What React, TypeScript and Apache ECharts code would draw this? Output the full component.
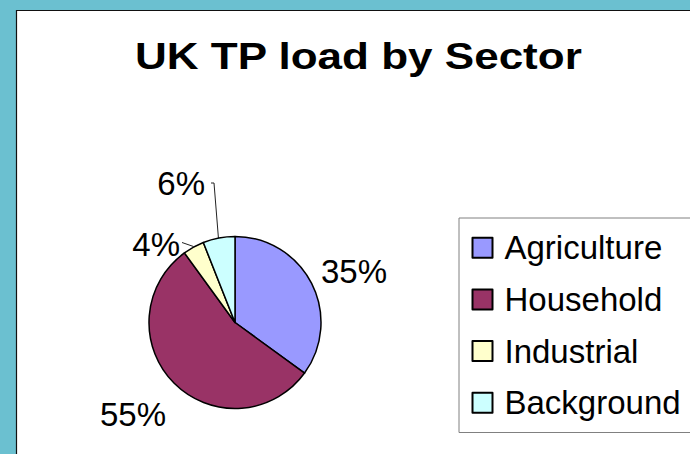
import React, { useEffect, useRef } from "react";
import * as echarts from "echarts";

const categories = ["Agriculture", "Household", "Industrial", "Background"];
const values = [35, 55, 4, 6];
const colors = ["#9999FF", "#993366", "#FFFFCC", "#CCFFFF"];
const titleText = "UK TP load by Sector";

const FONT = 'Arial, "Liberation Sans", Helvetica, sans-serif';

// label anchor styling per slice (x, y, align)
const labelAnchors = [
  { x: 321, y: 271.5, align: "left" },
  { x: 100, y: 414, align: "left" },
  { x: 180, y: 244, align: "right" },
  { x: 205, y: 183, align: "right" },
];
const labelLines: (number[][] | null)[] = [
  null,
  null,
  [[193.5, 246.5], [182, 242.5]],
  [[218.5, 239], [214, 183], [211, 183]],
];

export default function App() {
  const ref = useRef<HTMLDivElement>(null);
  useEffect(() => {
    if (!ref.current) return;
    const chart = echarts.init(ref.current, undefined, { renderer: "svg" });
    chart.setOption({
      animation: false,
      backgroundColor: "#6BC0D0",
      graphic: [
        {
          type: "rect",
          z: -10,
          shape: { x: 16.5, y: 10.5, width: 700, height: 460 },
          style: { fill: "#FFFFFF", stroke: "#111111", lineWidth: 1.2 },
        },
        {
          type: "text",
          z: 10,
          x: 135,
          y: 56.5,
          scaleX: 1.19,
          scaleY: 1,
          style: {
            text: titleText,
            fill: "#000000",
            font: `bold 37px ${FONT}`,
            textAlign: "left",
            textVerticalAlign: "middle",
          },
        },
      ],
      legend: {
        orient: "vertical",
        left: 459,
        top: 218,
        padding: [9.7, 13, 9.7, 12.5],
        itemWidth: 20,
        itemHeight: 20,
        itemGap: 11.7,
        icon: "rect",
        borderColor: "#808080",
        borderWidth: 1,
        backgroundColor: "#FFFFFF",
        data: categories,
        textStyle: {
          fontFamily: FONT,
          fontSize: 33,
          color: "#000000",
          lineHeight: 40,
          padding: [0, 0, 0, 7],
        },
      },
      series: [
        {
          type: "pie",
          center: [235, 322.5],
          radius: 86,
          startAngle: 90,
          clockwise: true,
          avoidLabelOverlap: false,
          itemStyle: { borderColor: "#000000", borderWidth: 1.5 },
          label: {
            show: true,
            position: "outside",
            formatter: "{d}%",
            fontFamily: FONT,
            fontSize: 33,
            color: "#000000",
          },
          labelLine: {
            show: true,
            lineStyle: { color: "#222222", width: 1 },
          },
          labelLayout: (params: any) => {
            const a = labelAnchors[params.dataIndex];
            const out: any = {
              x: a.x,
              y: a.y,
              align: a.align,
              verticalAlign: "middle",
            };
            const pts = labelLines[params.dataIndex];
            if (pts) out.labelLinePoints = pts;
            return out;
          },
          data: categories.map((name, i) => ({
            name,
            value: values[i],
            itemStyle: { color: colors[i] },
            labelLine: { show: labelLines[i] !== null },
          })),
        },
      ],
    });
    return () => chart.dispose();
  }, []);
  return (
    <div
      ref={ref}
      style={{ position: "fixed", left: 0, top: 0, width: 690, height: 454 }}
    />
  );
}
